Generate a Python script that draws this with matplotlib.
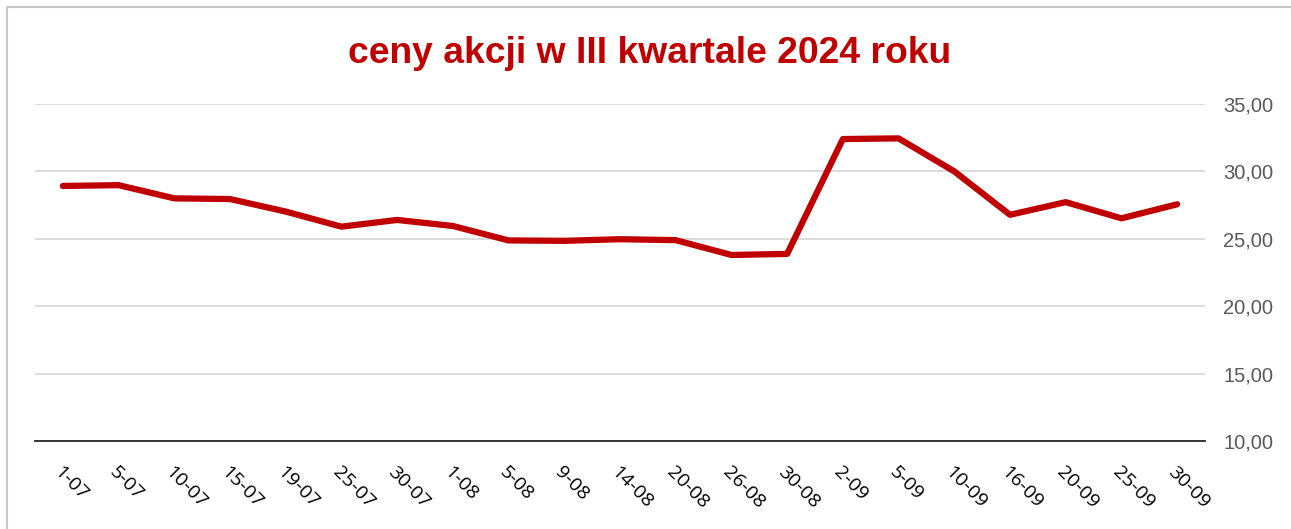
import matplotlib
matplotlib.use("Agg")
import matplotlib.pyplot as plt
from matplotlib.patches import Rectangle
from matplotlib.ticker import FuncFormatter

dates = ["1-07", "5-07", "10-07", "15-07", "19-07", "25-07", "30-07", "1-08",
         "5-08", "9-08", "14-08", "20-08", "26-08", "30-08", "2-09", "5-09",
         "10-09", "16-09", "20-09", "25-09", "30-09"]
prices = [28.92, 28.98, 28.00, 27.95, 27.02, 25.90, 26.40, 25.95,
          24.88, 24.85, 24.97, 24.90, 23.80, 23.88, 32.40, 32.45,
          30.00, 26.78, 27.72, 26.52, 27.56]
yticks = [10, 15, 20, 25, 30, 35]

W, H = 1291, 529
fig = plt.figure(figsize=(W / 100, H / 100), dpi=100)
fig.patch.set_facecolor("white")

# outer chart border
fig.patches.append(Rectangle((7 / W, -0.05), (W - 7 + 20) / W, (H - 7) / H + 0.05,
                             transform=fig.transFigure, fill=False,
                             edgecolor="#c8c8c8", linewidth=1.5))

L, R, T, B = 35, 1205, 104, 441
ax = fig.add_axes([L / W, 1 - B / H, (R - L) / W, (B - T) / H])
x = list(range(len(dates)))
ax.plot(x, prices, color="#c00000", linewidth=4.5, solid_capstyle="round",
        solid_joinstyle="round", zorder=3)

ax.set_ylim(10, 35)
ax.set_xlim(-0.5, len(dates) - 0.5)
ax.set_yticks(yticks)
ax.yaxis.set_major_formatter(FuncFormatter(lambda v, p: f"{v:.2f}".replace(".", ",")))
ax.yaxis.tick_right()
ax.grid(axis="y", color="#d9d9d9", linewidth=1.3, zorder=0)
ax.set_axisbelow(True)
for s in ["top", "left", "right"]:
    ax.spines[s].set_visible(False)
ax.spines["bottom"].set_color("#262626")
ax.spines["bottom"].set_linewidth(1.3)
ax.tick_params(axis="y", length=0, pad=13, labelsize=14.5, labelcolor="#595959")
for lbl in ax.get_yticklabels():
    lbl.set_fontfamily("Liberation Sans")

ax.set_xticks(x)
ax.set_xticklabels(dates, rotation=-45, ha="left", va="top",
                   rotation_mode="anchor", fontsize=14, family="Open Sans",
                   color="#000000")
ax.tick_params(axis="x", length=0, pad=16)

fig.text(0.5035, 1 - 63 / H, "ceny akcji w III kwartale 2024 roku", ha="center",
         va="baseline", fontsize=26.8, fontweight="bold", color="#c00000",
         family="Liberation Sans")

fig.savefig("out.png", dpi=100, facecolor="white")
